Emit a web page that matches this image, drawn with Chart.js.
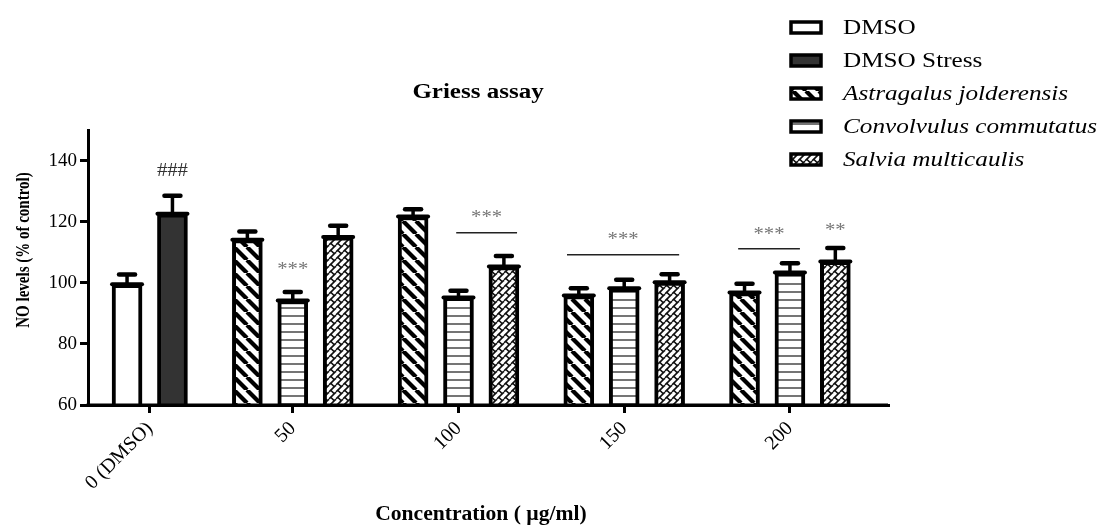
<!DOCTYPE html>
<html>
<head>
<meta charset="utf-8">
<script src="https://cdn.jsdelivr.net/npm/chart.js@4/dist/chart.umd.min.js"></script>
<style>
  body { margin: 0; background: #fff; }
  #wrap { position: relative; width: 1103px; height: 525px; }
</style>
</head>
<body>
<div id="wrap"><canvas id="chart"></canvas></div>
<script>
// DATA
const groups = ["0 (DMSO)", "50", "100", "150", "200"];
const seriesNames = ["DMSO", "DMSO Stress", "Astragalus jolderensis", "Convolvulus commutatus", "Salvia multicaulis"];
const dmso        = [99.5, null, null, null, null];
const dmsoStress  = [122.6, null, null, null, null];
const astragalus  = [null, 114.1, 121.7, 95.8, 96.8];
const convolvulus = [null, 94.2, 95.2, 98.2, 103.4];
const salvia      = [null, 115.0, 105.3, 100.2, 107.0];
// SEM (upper error bar only)
const dmsoSem        = [3.2, null, null, null, null];
const dmsoStressSem  = [5.9, null, null, null, null];
const astragalusSem  = [null, 2.7, 2.4, 2.4, 2.9];
const convolvulusSem = [null, 2.8, 2.2, 2.8, 3.0];
const salviaSem      = [null, 3.7, 3.5, 2.6, 4.4];
const yTicks = [60, 80, 100, 120, 140];

// significance marks (value = height on y axis)
const starMarks = [
  { text: "###", group: 0, series: 1, value: 136.4 },
  { text: "***", group: 1, series: 3, value: 105.2 },
  { text: "**",  group: 4, series: 4, value: 118.0 }
];
// brackets: from/to in bar slots inside the group
const brackets = [
  { text: "***", group: 2, from: 0.95, to: 2.29, value: 116.4 },
  { text: "***", group: 3, from: -0.26, to: 2.21, value: 109.2 },
  { text: "***", group: 4, from: -0.14, to: 1.22, value: 111.1 }
];

// LAYOUT OF GROUPS (bar slots on a linear axis)
const GAP = 1.65;
const barsInGroup = [2, 3, 3, 3, 3];
const groupStart = [];
barsInGroup.forEach((n, g) => {
  groupStart.push(g === 0 ? 0 : groupStart[g - 1] + barsInGroup[g - 1] - 1 + GAP);
});
const groupCenter = groupStart.map((s, g) => s + (barsInGroup[g] - 1) / 2);
const slotOf = [0, 1, 0, 1, 2];

// PATTERNS
function tile(size, draw) {
  const c = document.createElement("canvas");
  c.width = size; c.height = size;
  const t = c.getContext("2d");
  t.fillStyle = "#fff";
  t.fillRect(0, 0, size, size);
  draw(t, size);
  return c;
}
const ctx = document.getElementById("chart").getContext("2d");

const diagTile = tile(13, (t, s) => {
  t.strokeStyle = "#000"; t.lineWidth = 4.2;
  for (const o of [-s, 0, s]) {
    t.beginPath(); t.moveTo(o, 0); t.lineTo(o + s, s); t.stroke();
  }
});
const horizTile = tile(8, (t, s) => {
  t.strokeStyle = "#3a3a3a"; t.lineWidth = 1.4;
  t.beginPath(); t.moveTo(0, 4); t.lineTo(s, 4); t.stroke();
});
const brickTile = tile(7, (t, s) => {
  t.strokeStyle = "#111"; t.lineWidth = 1.6;
  for (const o of [-s, 0, s]) {
    t.beginPath(); t.moveTo(o, s); t.lineTo(o + s, 0); t.stroke();
  }
  for (const dy of [-s, 0]) {
    t.beginPath(); t.moveTo(1.75, 5.25 + dy); t.lineTo(5.25, 8.75 + dy); t.stroke();
  }
});

const fills = [
  "#ffffff",
  "#333333",
  ctx.createPattern(diagTile, "repeat"),
  ctx.createPattern(horizTile, "repeat"),
  ctx.createPattern(brickTile, "repeat")
];

const seriesValues = [dmso, dmsoStress, astragalus, convolvulus, salvia];
const seriesSem = [dmsoSem, dmsoStressSem, astragalusSem, convolvulusSem, salviaSem];

const datasets = seriesNames.map((name, i) => {
  const pts = [];
  seriesValues[i].forEach((v, g) => {
    if (v !== null) pts.push({ x: groupStart[g] + slotOf[i], y: v, err: seriesSem[i][g] });
  });
  return {
    label: name,
    data: pts,
    backgroundColor: fills[i],
    borderColor: "#000",
    borderWidth: 4,
    barThickness: 30,
    grouped: false
  };
});

const SERIF = "'Liberation Serif', 'Times New Roman', serif";

function stretchText(c, text, x, y, font, sx, align) {
  c.save();
  c.translate(x, y);
  c.scale(sx, 1);
  c.font = font;
  c.textAlign = align || "left";
  c.fillText(text, 0, 0);
  c.restore();
}

const overlay = {
  id: "overlay",
  afterDatasetsDraw(chart) {
    const c = chart.ctx, ys = chart.scales.y, xs = chart.scales.x;
    c.save();
    c.strokeStyle = "#000";
    chart.data.datasets.forEach((ds, i) => {
      chart.getDatasetMeta(i).data.forEach((bar, j) => {
        const p = ds.data[j];
        const top = ys.getPixelForValue(p.y + p.err);
        c.lineCap = "butt";
        c.lineWidth = 3.5;
        c.beginPath(); c.moveTo(bar.x, bar.y); c.lineTo(bar.x, top); c.stroke();
        c.lineCap = "round";
        c.lineWidth = 4.5;
        c.beginPath(); c.moveTo(bar.x - 8, top); c.lineTo(bar.x + 8, top); c.stroke();
        c.lineWidth = 4;
        c.beginPath(); c.moveTo(bar.x - bar.width / 2, bar.y); c.lineTo(bar.x + bar.width / 2, bar.y); c.stroke();
      });
    });
    // x axis line over the bars
    const a = chart.chartArea;
    c.lineCap = "butt";
    c.lineWidth = 3;
    c.beginPath(); c.moveTo(a.left - 1.5, a.bottom); c.lineTo(a.right, a.bottom); c.stroke();

    // significance
    c.textBaseline = "middle";
    starMarks.forEach(m => {
      const x = xs.getPixelForValue(groupStart[m.group] + slotOf[m.series]);
      c.fillStyle = m.text === "###" ? "#333" : "#777";
      stretchText(c, m.text, x, ys.getPixelForValue(m.value) + (m.text === "###" ? 0 : 3), "18px " + SERIF, 1.15, "center");
    });
    brackets.forEach(b => {
      const x1 = xs.getPixelForValue(groupStart[b.group] + b.from);
      const x2 = xs.getPixelForValue(groupStart[b.group] + b.to);
      const y = ys.getPixelForValue(b.value);
      c.strokeStyle = "#222"; c.lineWidth = 1.5;
      c.beginPath(); c.moveTo(x1, y); c.lineTo(x2, y); c.stroke();
      c.fillStyle = "#777";
      stretchText(c, b.text, (x1 + x2) / 2, y - 14, "18px " + SERIF, 1.15, "center");
    });
    c.restore();
  },
  afterDraw(chart) {
    const c = chart.ctx;
    c.save();
    c.fillStyle = "#000";
    c.textBaseline = "alphabetic";
    // title
    stretchText(c, "Griess assay", 478, 98, "bold 20px " + SERIF, 1.25, "center");
    // x title
    stretchText(c, "Concentration ( \u00b5g/ml)", 481, 520, "bold 20px " + SERIF, 1.08, "center");
    // y title
    c.save();
    c.translate(24, 250);
    c.scale(1.3, 1);
    c.rotate(-Math.PI / 2);
    c.font = "bold 15px " + SERIF;
    c.textAlign = "center";
    c.textBaseline = "middle";
    c.fillText("NO levels (% of control)", 0, 0);
    c.restore();
    // legend
    seriesNames.forEach((name, i) => {
      const y = 34 + i * 33;
      c.fillStyle = fills[i];
      c.fillRect(791, y - 12, 30, 11);
      c.strokeStyle = "#000";
      c.lineWidth = 3.5;
      c.strokeRect(791, y - 12, 30, 11);
      c.fillStyle = "#000";
      const font = (i >= 2 ? "italic " : "") + "20px " + SERIF;
      stretchText(c, name, 843, y, font, 1.26, "left");
    });
    c.restore();
  }
};

new Chart(ctx, {
  type: "bar",
  data: { datasets },
  options: {
    responsive: true,
    maintainAspectRatio: false,
    animation: false,
    layout: { padding: { top: 130, right: 215, left: 0, bottom: 0 } },
    plugins: { legend: { display: false }, title: { display: false }, tooltip: { enabled: false } },
    scales: {
      x: {
        type: "linear",
        offset: false,
        min: -0.86,
        max: 16.76,
        afterBuildTicks: s => { s.ticks = groupCenter.map(v => ({ value: v })); },
        afterFit: s => { s.height = 120; },
        ticks: {
          autoSkip: false,
          minRotation: 45,
          maxRotation: 45,
          padding: 4,
          color: "#000",
          font: { family: SERIF, size: 20 },
          callback: (v, i) => groups[i]
        },
        grid: { display: true, offset: false, drawOnChartArea: false, drawTicks: true, tickLength: 8, lineWidth: 3, color: "#000" },
        border: { display: true, width: 3, color: "#000" }
      },
      y: {
        min: 60,
        max: 150,
        afterBuildTicks: s => { s.ticks = yTicks.map(v => ({ value: v })); },
        afterFit: s => { s.width = 88; },
        ticks: {
          padding: 3,
          color: "#000",
          font: { family: SERIF, size: 19 }
        },
        grid: { display: true, drawOnChartArea: false, drawTicks: true, tickLength: 8, lineWidth: 3, color: "#000" },
        border: { display: true, width: 3, color: "#000" }
      }
    }
  },
  plugins: [overlay]
});
</script>
</body>
</html>
